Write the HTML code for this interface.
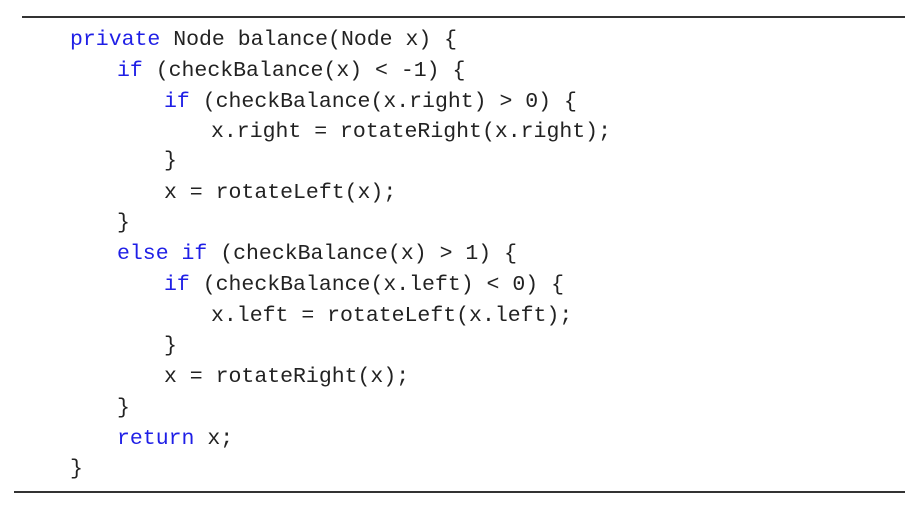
<!DOCTYPE html>
<html><head><meta charset="utf-8"><style>
body{margin:0;width:923px;height:508px;background:#fff;position:relative;overflow:hidden}
.r{position:absolute;height:2px;background:#333}
.l{position:absolute;font-family:"Liberation Mono",monospace;font-size:21.5px;color:#222;white-space:pre;line-height:30px;height:30px}
.k{color:#1f1fe6}
</style></head><body>
<div class="r" style="left:22px;top:16px;width:883px"></div>
<div class="r" style="left:14px;top:491px;width:891px"></div>
<div class="l" style="left:70px;top:25px"><span class="k">private</span> Node balance(Node x) {</div>
<div class="l" style="left:117px;top:56px"><span class="k">if</span> (checkBalance(x) &lt; -1) {</div>
<div class="l" style="left:164px;top:87px"><span class="k">if</span> (checkBalance(x.right) &gt; 0) {</div>
<div class="l" style="left:211px;top:117px">x.right = rotateRight(x.right);</div>
<div class="l" style="left:164px;top:146px">}</div>
<div class="l" style="left:164px;top:178px">x = rotateLeft(x);</div>
<div class="l" style="left:117px;top:208px">}</div>
<div class="l" style="left:117px;top:239px"><span class="k">else if</span> (checkBalance(x) &gt; 1) {</div>
<div class="l" style="left:164px;top:270px"><span class="k">if</span> (checkBalance(x.left) &lt; 0) {</div>
<div class="l" style="left:211px;top:301px">x.left = rotateLeft(x.left);</div>
<div class="l" style="left:164px;top:331px">}</div>
<div class="l" style="left:164px;top:362px">x = rotateRight(x);</div>
<div class="l" style="left:117px;top:393px">}</div>
<div class="l" style="left:117px;top:424px"><span class="k">return</span> x;</div>
<div class="l" style="left:70px;top:454px">}</div>
</body></html>
